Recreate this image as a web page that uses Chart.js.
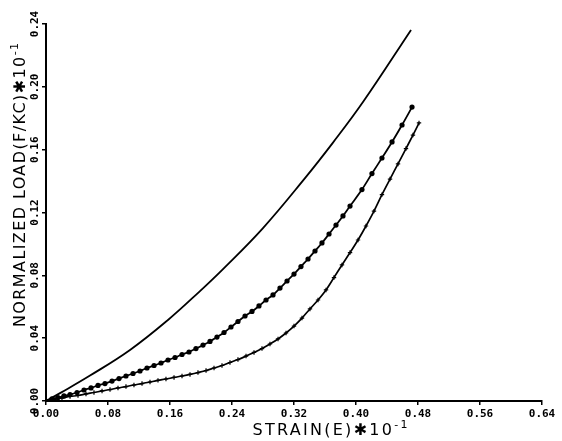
<!DOCTYPE html>
<html>
<head>
<meta charset="utf-8">
<script src="https://cdn.jsdelivr.net/npm/chart.js@4.4.1/dist/chart.umd.min.js"></script>
<style>
  html, body { margin: 0; padding: 0; background: #fff; }
  #wrap { width: 562px; height: 441px; }
</style>
</head>
<body>
<div id="wrap"><canvas id="chart" width="562" height="441"></canvas></div>
<script>
// strain and normalized load, both read in units of 10^-1
const upperStrain = [0, 0.0181, 0.0568, 0.1084, 0.1574, 0.1987, 0.2284, 0.2800, 0.3342, 0.3703, 0.4090, 0.4710];
const upperLoad   = [0, 0.0050, 0.0162, 0.0325, 0.0516, 0.0700, 0.0840, 0.1101, 0.1419, 0.1645, 0.1903, 0.2362];

const dotStrain = [0, 0.0077, 0.0155, 0.0232, 0.0310, 0.0400, 0.0490, 0.0581, 0.0671, 0.0761,
  0.0852, 0.0942, 0.1032, 0.1123, 0.1213, 0.1303, 0.1394, 0.1484, 0.1574, 0.1665,
  0.1755, 0.1845, 0.1935, 0.2026, 0.2116, 0.2206, 0.2297, 0.2387, 0.2477, 0.2568,
  0.2658, 0.2748, 0.2839, 0.2929, 0.3019, 0.3110, 0.3200, 0.3290, 0.3381, 0.3471,
  0.3561, 0.3652, 0.3742, 0.3832, 0.3923, 0.4077, 0.4206, 0.4335, 0.4465, 0.4594, 0.4723];
const dotLoad = [0, 0.0013, 0.0022, 0.0032, 0.0041, 0.0054, 0.0070, 0.0083, 0.0099, 0.0111,
  0.0127, 0.0143, 0.0159, 0.0175, 0.0191, 0.0210, 0.0226, 0.0242, 0.0261, 0.0277,
  0.0296, 0.0312, 0.0334, 0.0356, 0.0379, 0.0407, 0.0436, 0.0471, 0.0506, 0.0541,
  0.0570, 0.0605, 0.0643, 0.0675, 0.0719, 0.0764, 0.0808, 0.0856, 0.0904, 0.0955,
  0.1006, 0.1063, 0.1120, 0.1178, 0.1241, 0.1346, 0.1448, 0.1547, 0.1649, 0.1757, 0.1871];

const crossStrain = [0, 0.0103, 0.0206, 0.0310, 0.0413, 0.0516, 0.0619, 0.0723, 0.0826, 0.0929,
  0.1032, 0.1135, 0.1239, 0.1342, 0.1445, 0.1548, 0.1652, 0.1755, 0.1858, 0.1961,
  0.2065, 0.2168, 0.2271, 0.2374, 0.2477, 0.2581, 0.2684, 0.2787, 0.2890, 0.2994,
  0.3097, 0.3200, 0.3303, 0.3406, 0.3510, 0.3613, 0.3716, 0.3819, 0.3923, 0.4026,
  0.4129, 0.4232, 0.4335, 0.4439, 0.4542, 0.4645, 0.4735, 0.4813];
const crossLoad = [0, 0.0010, 0.0019, 0.0029, 0.0035, 0.0045, 0.0054, 0.0064, 0.0073, 0.0083,
  0.0092, 0.0102, 0.0111, 0.0121, 0.0131, 0.0140, 0.0150, 0.0159, 0.0169, 0.0181,
  0.0194, 0.0210, 0.0226, 0.0245, 0.0264, 0.0286, 0.0309, 0.0334, 0.0363, 0.0395,
  0.0433, 0.0477, 0.0528, 0.0586, 0.0643, 0.0707, 0.0786, 0.0866, 0.0945, 0.1025,
  0.1114, 0.1209, 0.1314, 0.1413, 0.1509, 0.1607, 0.1693, 0.1770];

const xTicks = [0, 0.08, 0.16, 0.24, 0.32, 0.40, 0.48, 0.56, 0.64];
const yTicks = [0, 0.04, 0.08, 0.12, 0.16, 0.20, 0.24];

const xTitle = 'STRAIN(E)✱10';
const yTitle = 'NORMALIZED LOAD(F/KC)✱10';
const titleExp = '-1';

function toPoints(xs, ys) {
    return xs.map((x, i) => ({ x: x, y: ys[i] }));
}

function drawTitle(ctx, text, cx, cy, angle, width, size) {
    const mainFont = size + 'px "DejaVu Sans"';
    const supFont = Math.round(size * 0.7) + 'px "DejaVu Sans"';
    ctx.save();
    ctx.translate(cx, cy);
    ctx.rotate(angle);
    ctx.fillStyle = '#000';
    ctx.textAlign = 'left';
    ctx.textBaseline = 'alphabetic';
    ctx.letterSpacing = '0px';
    ctx.font = mainFont;
    const w1 = ctx.measureText(text).width;
    ctx.font = supFont;
    const w2 = ctx.measureText(titleExp).width;
    // spread letters so the title covers the same length as in the plot
    const gap = Math.max(0, (width - w1 - w2) / (text.length + titleExp.length - 1));
    ctx.letterSpacing = gap + 'px';
    ctx.font = mainFont;
    const x0 = -width / 2;
    ctx.fillText(text, x0, 0);
    const x1 = x0 + ctx.measureText(text).width;
    ctx.font = supFont;
    ctx.fillText(titleExp, x1, -size * 0.42);
    ctx.restore();
}

const axisTitles = {
    id: 'axisTitles',
    afterDraw(chart) {
        const ctx = chart.ctx;
        drawTitle(ctx, xTitle, 330, 435, 0, 155, 16);
        drawTitle(ctx, yTitle, 25, 185, -Math.PI / 2, 284, 16);
    }
};

const whiteBg = {
    id: 'whiteBg',
    beforeDraw(chart) {
        const ctx = chart.ctx;
        ctx.save();
        ctx.fillStyle = '#fff';
        ctx.fillRect(0, 0, chart.width, chart.height);
        ctx.restore();
    }
};

const tickFont = { family: '"DejaVu Sans Mono"', size: 11, weight: 'bold' };

new Chart(document.getElementById('chart'), {
    type: 'scatter',
    data: {
        datasets: [
            {
                data: toPoints(upperStrain, upperLoad),
                showLine: true,
                borderColor: '#000',
                borderWidth: 1.8,
                pointRadius: 0,
                tension: 0.4
            },
            {
                data: toPoints(dotStrain, dotLoad),
                showLine: true,
                borderColor: '#000',
                backgroundColor: '#000',
                borderWidth: 1.8,
                pointStyle: 'circle',
                pointRadius: 2.6,
                pointBorderWidth: 0,
                cubicInterpolationMode: 'monotone'
            },
            {
                data: toPoints(crossStrain, crossLoad),
                showLine: true,
                borderColor: '#000',
                backgroundColor: '#000',
                borderWidth: 1.7,
                pointStyle: 'cross',
                pointRadius: 2.2,
                pointBorderWidth: 1.2,
                cubicInterpolationMode: 'monotone'
            }
        ]
    },
    options: {
        responsive: false,
        animation: false,
        devicePixelRatio: 1,
        layout: { padding: { left: 0, top: 24, right: 20, bottom: 0 } },
        plugins: {
            legend: { display: false },
            tooltip: { enabled: false }
        },
        scales: {
            x: {
                type: 'linear',
                min: 0,
                max: 0.64,
                afterBuildTicks: (scale) => { scale.ticks = xTicks.map(v => ({ value: v })); },
                afterFit: (scale) => { scale.height = 40; },
                grid: { drawOnChartArea: false, drawTicks: true, tickLength: 4, color: '#000', lineWidth: 1.5 },
                border: { display: true, color: '#000', width: 2 },
                ticks: {
                    color: '#000',
                    font: tickFont,
                    padding: 3,
                    maxRotation: 0,
                    callback: (v) => v.toFixed(2)
                }
            },
            y: {
                type: 'linear',
                min: 0,
                max: 0.24,
                afterBuildTicks: (scale) => { scale.ticks = yTicks.map(v => ({ value: v })); },
                afterFit: (scale) => { scale.width = 46; },
                grid: { drawOnChartArea: false, drawTicks: true, tickLength: 4, color: '#000', lineWidth: 1.5 },
                border: { display: true, color: '#000', width: 2 },
                ticks: {
                    color: '#000',
                    font: tickFont,
                    padding: -6,
                    minRotation: 90,
                    maxRotation: 90,
                    crossAlign: 'center',
                    callback: (v) => v.toFixed(2)
                }
            }
        }
    },
    plugins: [whiteBg, axisTitles]
});
</script>
</body>
</html>
